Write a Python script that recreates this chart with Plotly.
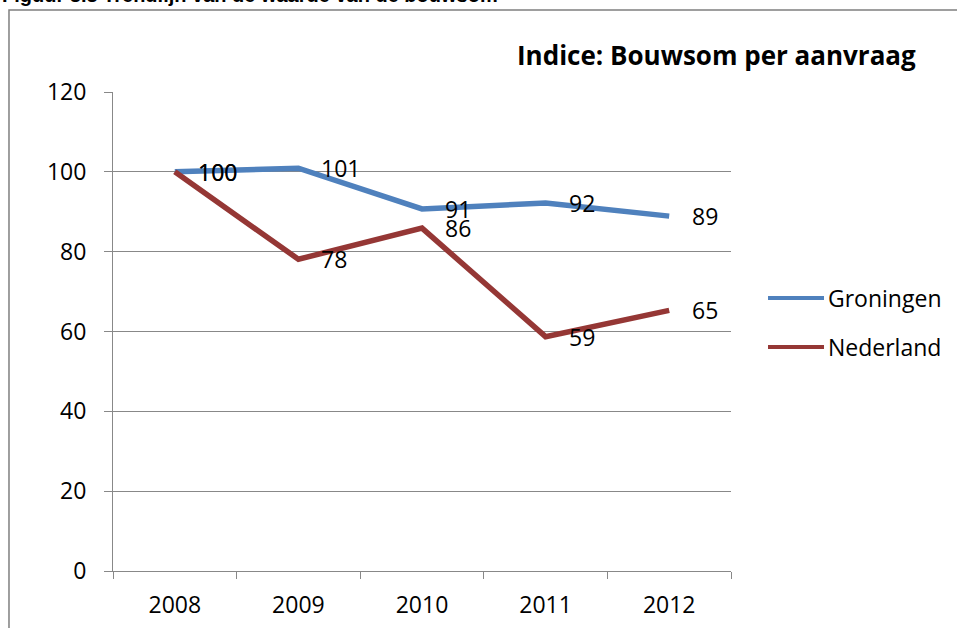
import plotly.graph_objects as go

years = ["2008", "2009", "2010", "2011", "2012"]
groningen = [100, 100.9, 90.7, 92.2, 88.9]
nederland = [100, 78.1, 85.9, 58.7, 65.3]
y_ticks = [0, 20, 40, 60, 80, 100, 120]
series_names = ["Groningen", "Nederland"]
caption = "Figuur 3.3 Trendlijn van de waarde van de bouwsom"
chart_title = "Indice: Bouwsom per aanvraag"

BLUE = "#4F81BD"
RED = "#953735"
FONT = "Open Sans, Calibri, sans-serif"
GRID = "#888888"
colors = [BLUE, RED]

fig = go.Figure()
for name, vals, col in zip(series_names, [groningen, nederland], colors):
    fig.add_trace(go.Scatter(x=years, y=vals, name=name, mode="lines",
                             line=dict(color=col, width=5.5), showlegend=False))

for series in (groningen, nederland):
    for i, v in enumerate(series):
        fig.add_annotation(x=i, y=v, xref="x", yref="y", text=str(round(v)),
                           showarrow=False, xanchor="left", yanchor="middle",
                           xshift=21, font=dict(family=FONT, size=23, color="black"))

# manual legend (Excel style: long line samples)
leg_y = [0.570, 0.4676]
for name, col, ly in zip(series_names, colors, leg_y):
    fig.add_shape(type="line", xref="paper", yref="paper", x0=1.0599, x1=1.1505,
                  y0=ly, y1=ly, line=dict(color=col, width=4))
    fig.add_annotation(xref="paper", yref="paper", x=1.153, y=ly, text=name,
                       showarrow=False, xanchor="left", yanchor="middle",
                       font=dict(family=FONT, size=23, color="black"))

fig.add_annotation(xref="paper", yref="paper", x=-0.183, y=1.2016,
                   xanchor="left", yanchor="middle", text="<b>" + caption + "</b>",
                   showarrow=False, font=dict(family="Liberation Sans, Arial", size=20, color="black"))
fig.add_annotation(xref="paper", yref="paper", x=0.65, y=1.077,
                   xanchor="left", yanchor="middle", text="<b>" + chart_title + "</b>",
                   showarrow=False, font=dict(family=FONT, size=26, color="black"))

fig.add_shape(type="rect", xref="paper", yref="paper", x0=-0.1683, x1=1.6,
              y0=-0.5, y1=1.1712, line=dict(color="#7f7f7f", width=1.5), layer="below")

fig.update_layout(
    width=957, height=628,
    margin=dict(l=113, r=226, t=92, b=57),
    paper_bgcolor="white", plot_bgcolor="white",
    font=dict(family=FONT, size=23, color="black"),
    showlegend=False,
    xaxis=dict(type="category", range=[-0.5, 4.5], tickson="boundaries",
               ticks="outside", ticklen=7, tickcolor=GRID, showline=True,
               linecolor=GRID, linewidth=1, showgrid=False, ticklabelstandoff=13,
               automargin=False),
    yaxis=dict(range=[0, 120], tickvals=y_ticks, ticks="outside", ticklen=8,
               tickcolor=GRID, showline=True, linecolor=GRID, linewidth=1,
               showgrid=True, gridcolor=GRID, gridwidth=1, zeroline=False,
               ticklabelstandoff=13, automargin=False),
)

fig.write_html("out.html")
